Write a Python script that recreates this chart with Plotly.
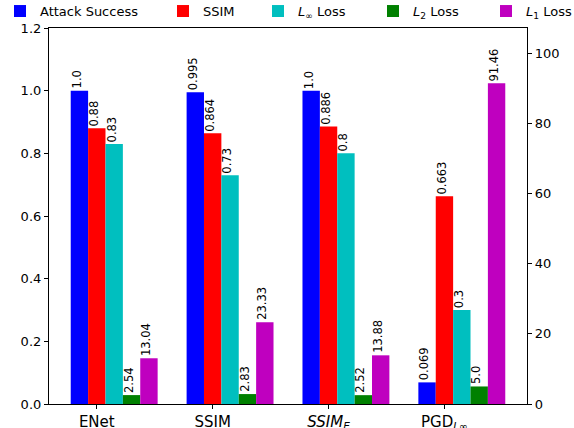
import plotly.graph_objects as go

categories = ["ENet", "SSIM", "<i>SSIM</i><sub><i>E</i></sub>", "PGD<sub><i>L</i>∞</sub>"]
attack_success = [1.0, 0.995, 1.0, 0.069]
ssim = [0.88, 0.864, 0.886, 0.663]
linf_loss = [0.83, 0.73, 0.8, 0.3]
l2_loss = [2.54, 2.83, 2.52, 5.0]
l1_loss = [13.04, 23.33, 13.88, 91.46]

w = 0.15
font = "DejaVu Sans"
W, H = 574, 428

series = [
    ("Attack Success", attack_success, "#0000ff", "y"),
    ("SSIM", ssim, "#ff0000", "y"),
    ("<i>L</i><sub>∞</sub> Loss", linf_loss, "#00bfbf", "y"),
    ("<i>L</i><sub>2</sub> Loss", l2_loss, "#008000", "y2"),
    ("<i>L</i><sub>1</sub> Loss", l1_loss, "#bf00bf", "y2"),
]

# left edge (px) of each legend entry, spaced like the matplotlib legend row
legend_left = [0, 163, 258, 373, 486]

fig = go.Figure()
annotations = []
legends = {}
for k, (name, vals, color, yax) in enumerate(series):
    xs = [i + (k - 1) * w for i in range(len(vals))]
    lg = "legend" if k == 0 else f"legend{k + 1}"
    fig.add_trace(go.Bar(
        x=xs, y=vals, width=w, name=name, yaxis=yax, legend=lg,
        marker=dict(color=color, line=dict(width=0)),
    ))
    legends[lg] = dict(
        x=legend_left[k] / W, xanchor="left", xref="container",
        y=1.045, yanchor="middle", yref="paper",
        font=dict(size=13), bgcolor="rgba(0,0,0,0)",
    )
    for x, v in zip(xs, vals):
        annotations.append(dict(
            x=x - w / 2, y=v, xref="x", yref=yax, text=str(v),
            textangle=-90, xanchor="left", yanchor="bottom",
            showarrow=False, borderpad=0, yshift=1, xshift=-2,
            font=dict(family=font, size=11.5, color="black"),
        ))

fig.update_layout(
    width=W, height=H,
    margin=dict(l=49, r=47, t=28, b=24, autoexpand=False),
    barmode="overlay", showlegend=True,
    plot_bgcolor="white", paper_bgcolor="white",
    font=dict(family=font, size=13, color="black"),
    annotations=annotations,
    xaxis=dict(
        range=[-0.4125, 3.7125], tickvals=[0, 1, 2, 3], ticktext=categories,
        showline=True, linecolor="black", linewidth=1.2, mirror=True,
        ticks="outside", ticklen=4, tickcolor="black", showgrid=False,
        zeroline=False, tickfont=dict(size=15),
    ),
    yaxis=dict(
        range=[0, 1.2], tickvals=[0, 0.2, 0.4, 0.6, 0.8, 1.0, 1.2],
        ticktext=["0.0", "0.2", "0.4", "0.6", "0.8", "1.0", "1.2"],
        showline=True, linecolor="black", linewidth=1.2,
        ticks="outside", ticklen=4, tickcolor="black", showgrid=False,
        zeroline=False, tickfont=dict(size=13),
    ),
    yaxis2=dict(
        range=[0, 107.2], tickvals=[0, 20, 40, 60, 80, 100],
        overlaying="y", side="right",
        showline=True, linecolor="black", linewidth=1.2,
        ticks="outside", ticklen=4, tickcolor="black", showgrid=False,
        zeroline=False, tickfont=dict(size=13),
    ),
)
fig.update_layout(**legends)

# the page body has a default 8px margin; drop it so the figure fills the window
fig.write_html("out.html", config={"displayModeBar": False},
               post_script="document.body.style.margin='0';")
